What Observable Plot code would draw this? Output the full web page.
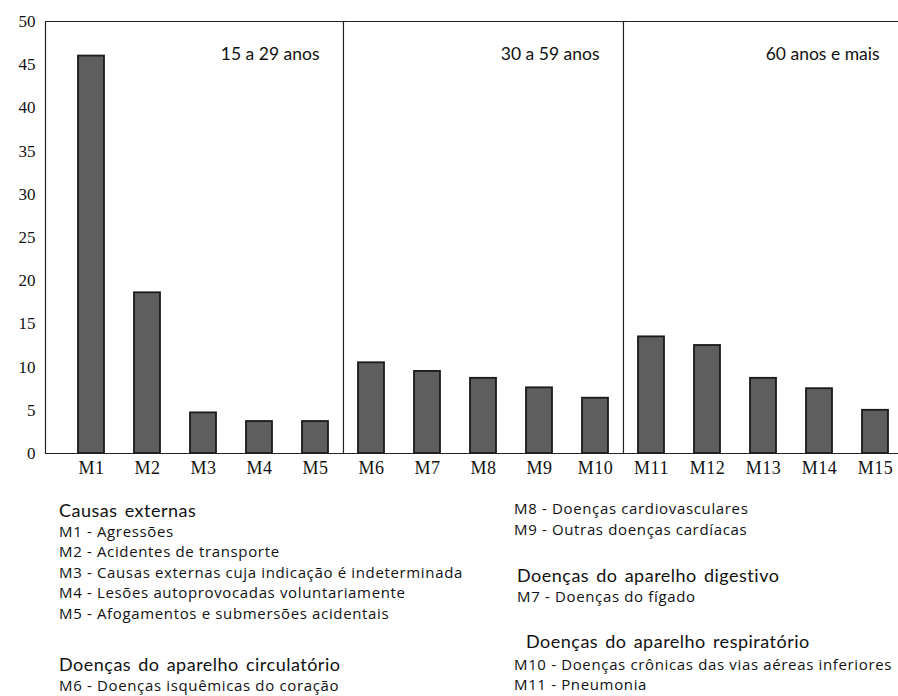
<!DOCTYPE html>
<html>
<head>
<meta charset="utf-8">
<script src="https://cdn.jsdelivr.net/npm/d3@7"></script>
<script src="https://cdn.jsdelivr.net/npm/@observablehq/plot@0.6"></script>
<style>
  body { margin: 0; background: white; }
  #wrap { position: relative; width: 898px; height: 696px; overflow: hidden; }
  .col { position: absolute; color: #111; }
  .hdr { font-family: Lato, sans-serif; font-size: 18px; letter-spacing: 0.5px; word-spacing: 2px; height: 20.5px; line-height: 20.5px; white-space: nowrap; }
  .itm { font-family: "Open Sans", sans-serif; font-size: 15px; letter-spacing: 0.65px; height: 20.5px; line-height: 20.5px; white-space: nowrap; }
  .xlab text { letter-spacing: 0.5px; }
</style>
</head>
<body>
<div id="wrap"></div>
<script>
// ---- data ----
const categories = ["M1","M2","M3","M4","M5","M6","M7","M8","M9","M10","M11","M12","M13","M14","M15"];
const values = [46, 18.6, 4.7, 3.7, 3.7, 10.5, 9.5, 8.7, 7.6, 6.4, 13.5, 12.5, 8.7, 7.5, 5.0];
const yTicks = [0, 5, 10, 15, 20, 25, 30, 35, 40, 45, 50];
const panelLabels = ["15 a 29 anos", "30 a 59 anos", "60 anos e mais"];
const panelLastCategory = ["M5", "M10", "M15"];
const panelDividers = ["M6", "M11"];

const legendLeftHeader1 = "Causas externas";
const legendLeftItems1 = ["M1 - Agressões", "M2 - Acidentes de transporte", "M3 - Causas externas cuja indicação é indeterminada", "M4 - Lesões autoprovocadas voluntariamente", "M5 - Afogamentos e submersões acidentais"];
const legendLeftHeader2 = "Doenças do aparelho circulatório";
const legendLeftItems2 = ["M6 - Doenças isquêmicas do coração"];
const legendRightItems1 = ["M8 - Doenças cardiovasculares", "M9 - Outras doenças cardíacas"];
const legendRightHeader2 = "Doenças do aparelho digestivo";
const legendRightItems2 = ["M7 - Doenças do fígado"];
const legendRightHeader3 = "Doenças do aparelho respiratório";
const legendRightItems3 = ["M10 - Doenças crônicas das vias aéreas inferiores", "M11 - Pneumonia"];

// ---- chart ----
const data = categories.map((c, i) => ({cat: c, value: values[i]}));
const xRange = [63, 904];
const step = (xRange[1] - xRange[0]) / categories.length;
const serif = "'Liberation Serif', 'DejaVu Serif', serif";

const chart = Plot.plot({
  width: 898,
  height: 485,
  marginLeft: 45,
  marginRight: 0,
  marginTop: 21,
  marginBottom: 32,
  style: {background: "white", color: "#111"},
  x: {domain: categories, range: xRange, paddingInner: 0.535, paddingOuter: 0.2675, axis: null},
  y: {domain: [0, 50], axis: null},
  marks: [
    Plot.barY(data, {x: "cat", y: "value", fill: "#5e5e5e", stroke: "#1a1a1a", strokeWidth: 1.8}),
    Plot.axisX({tickSize: 0, tickPadding: 8, fontFamily: serif, fontSize: 18, label: null, className: "xlab"}),
    Plot.axisY({ticks: yTicks, tickSize: 0, tickPadding: 10, fontFamily: serif, fontSize: 17, label: null}),
    Plot.ruleY([0, 50], {stroke: "#222", strokeWidth: 1.2}),
    Plot.frame({anchor: "left", stroke: "#222", strokeWidth: 1.2}),
    Plot.ruleX(panelDividers, {x: d => d, y1: 0, y2: 50, dx: -step / 2, stroke: "#222", strokeWidth: 1.2}),
    Plot.text(panelLabels, {x: (d, i) => panelLastCategory[i], y: 50, dy: 33, dx: 4, textAnchor: "end",
      text: d => d, fontFamily: "Lato, sans-serif", fontSize: 17.5, fill: "#111"})
  ]
});
const wrap = document.getElementById("wrap");
wrap.appendChild(chart);

// ---- legend ----
function col(left, top, parts) {
  const div = document.createElement("div");
  div.className = "col";
  div.style.left = left + "px";
  div.style.top = top + "px";
  for (const p of parts) {
    if (p.gap) { const s = document.createElement("div"); s.style.height = p.gap + "px"; div.appendChild(s); continue; }
    const d = document.createElement("div");
    d.className = p.header ? "hdr" : "itm";
    if (p.indent) d.style.paddingLeft = p.indent + "px";
    if (p.after) d.style.marginBottom = p.after + "px";
    d.textContent = p.text;
    div.appendChild(d);
  }
  wrap.appendChild(div);
}
col(59, 500, [
  {header: true, text: legendLeftHeader1},
  ...legendLeftItems1.map(t => ({text: t})),
  {gap: 31},
  {header: true, text: legendLeftHeader2},
  ...legendLeftItems2.map(t => ({text: t}))
]);
col(514, 498, [
  ...legendRightItems1.map(t => ({text: t})),
  {gap: 26},
  {header: true, text: legendRightHeader2, indent: 3},
  ...legendRightItems2.map(t => ({text: t, indent: 3})),
  {gap: 25},
  {header: true, text: legendRightHeader3, indent: 12, after: 2},
  ...legendRightItems3.map(t => ({text: t}))
]);
</script>
</body>
</html>
